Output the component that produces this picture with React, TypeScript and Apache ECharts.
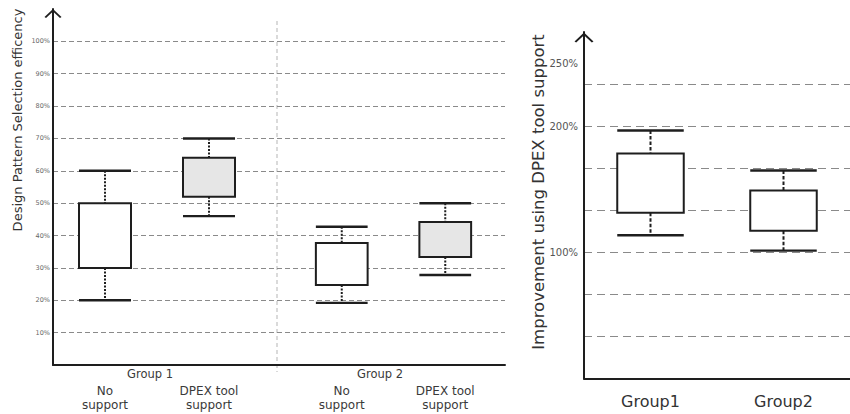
import React, { useEffect, useRef } from 'react';
import * as echarts from 'echarts';

// ---- Left chart data ----
const LEFT_GROUPS = ['Group 1', 'Group 2'];
const LEFT_CATEGORIES = ['No\nsupport', 'DPEX tool\nsupport'];
// each box: [min, q1, q3, max] in %
const GROUP1_BOXES = [
  [20, 30, 50, 60],
  [46, 52, 64, 70],
];
const GROUP2_BOXES = [
  [19.2, 24.7, 37.7, 42.7],
  [27.8, 33.4, 44.2, 50],
];
const LEFT_FILLS = ['#ffffff', '#e6e6e6'];
const LEFT_Y_TITLE = 'Design Pattern Selection efficency';
const LEFT_Y_MAX = 110;
const LEFT_Y_STEP = 10;

// ---- Right chart data ----
const RIGHT_CATEGORIES = ['Group1', 'Group2'];
const RIGHT_BOXES = [
  [113.6, 131.6, 178.5, 196.8],
  [101.4, 117.3, 149.1, 165],
];
const RIGHT_FILLS = ['#ffffff', '#ffffff'];
const RIGHT_Y_LABELS = [100, 200, 250];
const RIGHT_Y_MAX = 275;
const RIGHT_GRID_STEP = 100 / 3;
const RIGHT_Y_TITLE = 'Improvement using DPEX tool support';

const FONT = 'DejaVu Sans';
const INK = '#1e1e1e';

const chevron = 'path://M0,8 L8.5,0 L17,8 L15.5,9 L8.5,2.4 L1.5,9 Z';

const boxRenderer =
  (fills: string[], dash: number[], whiskerW: number) => (params: any, api: any) => {
    const c = api.value(0);
    const pMin = api.coord([c, api.value(1)]);
    const pQ1 = api.coord([c, api.value(2)]);
    const pQ3 = api.coord([c, api.value(3)]);
    const pMax = api.coord([c, api.value(4)]);
    const band = api.size([1, 0])[0];
    const w = band * 0.5;
    const cx = pMin[0];
    const x0 = cx - w / 2;
    const x1 = cx + w / 2;
    const fill = fills[params.dataIndex % fills.length];
    return {
      type: 'group',
      children: [
        {
          type: 'line',
          shape: { x1: cx, y1: pMax[1], x2: cx, y2: pQ3[1] },
          style: { stroke: INK, lineWidth: whiskerW, lineDash: dash },
        },
        {
          type: 'line',
          shape: { x1: cx, y1: pQ1[1], x2: cx, y2: pMin[1] },
          style: { stroke: INK, lineWidth: whiskerW, lineDash: dash },
        },
        {
          type: 'line',
          shape: { x1: x0, y1: pMax[1], x2: x1, y2: pMax[1] },
          style: { stroke: INK, lineWidth: 2.4 },
        },
        {
          type: 'line',
          shape: { x1: x0, y1: pMin[1], x2: x1, y2: pMin[1] },
          style: { stroke: INK, lineWidth: 2.4 },
        },
        {
          type: 'rect',
          shape: { x: x0, y: pQ3[1], width: w, height: pQ1[1] - pQ3[1] },
          style: { fill, stroke: INK, lineWidth: 2 },
        },
      ],
    };
  };

const toRows = (boxes: number[][]) => boxes.map((b, i) => [i, ...b]);

export default function App() {
  const ref = useRef<HTMLDivElement>(null);

  useEffect(() => {
    if (!ref.current) return;
    const chart = echarts.init(ref.current, null, { renderer: 'svg' });

    const hiddenY = (gridIndex: number) => ({
      type: 'value',
      gridIndex,
      min: 0,
      max: LEFT_Y_MAX,
      interval: LEFT_Y_STEP,
      show: false,
    });

    const groupX = (gridIndex: number, name: string, namePad: number) => ({
      type: 'category',
      gridIndex,
      data: LEFT_CATEGORIES,
      axisLine: { show: false },
      axisTick: { show: false },
      splitLine: { show: false },
      axisLabel: {
        interval: 0,
        margin: 19,
        fontFamily: FONT,
        fontSize: 12,
        lineHeight: 14,
        color: '#3a3a3a',
      },
      name,
      nameLocation: 'middle',
      nameGap: 3,
      nameMoveOverlap: false,
      nameTextStyle: {
        fontFamily: FONT,
        fontSize: 11.5,
        color: '#3a3a3a',
        padding: [0, namePad, 0, 0],
      },
    });

    const rightGridColors = Array.from({ length: 8 }, (_, i) => (i === 7 ? 'transparent' : '#8a8a8a'));

    chart.setOption({
      animation: false,
      backgroundColor: '#ffffff',
      grid: [
        { left: 53, top: 9, width: 452, height: 356, outerBoundsMode: 'none' },
        { left: 53, top: 9, width: 208, height: 356, outerBoundsMode: 'none' },
        { left: 290, top: 9, width: 207, height: 356, outerBoundsMode: 'none' },
        { left: 584, top: 32, width: 266, height: 346.4, outerBoundsMode: 'none' },
      ],
      xAxis: [
        {
          type: 'category',
          gridIndex: 0,
          data: LEFT_GROUPS,
          axisLine: { lineStyle: { color: INK, width: 2 } },
          axisTick: { show: false },
          axisLabel: { show: false },
          splitLine: { show: false },
        },
        groupX(1, LEFT_GROUPS[0], 14),
        groupX(2, LEFT_GROUPS[1], 27),
        {
          type: 'category',
          gridIndex: 3,
          data: RIGHT_CATEGORIES,
          axisLine: { lineStyle: { color: INK, width: 2 } },
          axisTick: { show: false },
          splitLine: { show: false },
          axisLabel: {
            interval: 0,
            margin: 15,
            fontFamily: FONT,
            fontSize: 16,
            color: '#333333',
          },
        },
      ],
      yAxis: [
        {
          type: 'value',
          gridIndex: 0,
          min: 0,
          max: LEFT_Y_MAX,
          interval: LEFT_Y_STEP,
          axisLine: {
            show: true,
            lineStyle: { color: INK, width: 2 },
            symbol: ['none', chevron],
            symbolSize: [17, 9],
            symbolOffset: [0, -4.5],
          },
          axisTick: { show: false },
          axisLabel: {
            formatter: '{value}%',
            fontFamily: FONT,
            fontSize: 6.5,
            color: '#666666',
            margin: 3,
            showMinLabel: false,
            showMaxLabel: false,
          },
          splitLine: {
            show: true,
            showMinLine: false,
            showMaxLine: false,
            lineStyle: { color: '#8a8a8a', width: 1, type: [5, 3] },
          },
        },
        hiddenY(1),
        hiddenY(2),
        {
          type: 'value',
          gridIndex: 3,
          min: 0,
          max: RIGHT_Y_MAX,
          interval: 50,
          axisLine: {
            show: true,
            lineStyle: { color: INK, width: 2 },
            symbol: ['none', chevron],
            symbolSize: [19, 11],
            symbolOffset: [0, -5.5],
          },
          axisTick: { show: false },
          splitLine: { show: false },
          axisLabel: {
            formatter: (v: number) => (RIGHT_Y_LABELS.includes(Math.round(v)) ? `${Math.round(v)}%` : ''),
            fontFamily: FONT,
            fontSize: 10,
            color: '#555555',
            margin: 6,
            showMinLabel: false,
            showMaxLabel: false,
          },
        },
        {
          type: 'value',
          gridIndex: 3,
          min: 0,
          max: RIGHT_Y_MAX,
          interval: RIGHT_GRID_STEP,
          axisLine: { show: false },
          axisTick: { show: false },
          axisLabel: { show: false },
          splitLine: {
            show: true,
            showMinLine: false,
            showMaxLine: false,
            lineStyle: { color: rightGridColors, width: 1.2, type: [8, 5] },
          },
        },
      ],
      graphic: [
        {
          type: 'line',
          shape: { x1: 277, y1: 21, x2: 277, y2: 372 },
          style: { stroke: '#b5b5b5', lineWidth: 1, lineDash: [4, 3] },
          z: 0,
        },
        {
          type: 'text',
          x: 17,
          y: 120,
          rotation: Math.PI / 2,
          style: {
            text: LEFT_Y_TITLE,
            fontFamily: FONT,
            fontSize: 13,
            fill: '#333333',
            align: 'center',
            verticalAlign: 'middle',
          },
        },
        {
          type: 'text',
          x: 538,
          y: 192,
          rotation: Math.PI / 2,
          style: {
            text: RIGHT_Y_TITLE,
            fontFamily: FONT,
            fontSize: 16.5,
            fill: '#333333',
            align: 'center',
            verticalAlign: 'middle',
          },
        },
      ],
      series: [
        {
          type: 'custom',
          xAxisIndex: 1,
          yAxisIndex: 1,
          renderItem: boxRenderer(LEFT_FILLS, [2, 1.5], 2),
          encode: { x: 0, y: [1, 2, 3, 4] },
          data: toRows(GROUP1_BOXES),
        },
        {
          type: 'custom',
          xAxisIndex: 2,
          yAxisIndex: 2,
          renderItem: boxRenderer(LEFT_FILLS, [2, 1.5], 2),
          encode: { x: 0, y: [1, 2, 3, 4] },
          data: toRows(GROUP2_BOXES),
        },
        {
          type: 'custom',
          xAxisIndex: 3,
          yAxisIndex: 3,
          renderItem: boxRenderer(RIGHT_FILLS, [3.5, 2], 2),
          encode: { x: 0, y: [1, 2, 3, 4] },
          data: toRows(RIGHT_BOXES),
        },
      ],
    });

    return () => chart.dispose();
  }, []);

  return (
    <div
      ref={ref}
      style={{ position: 'absolute', left: 0, top: 0, width: 850, height: 414 }}
    />
  );
}
